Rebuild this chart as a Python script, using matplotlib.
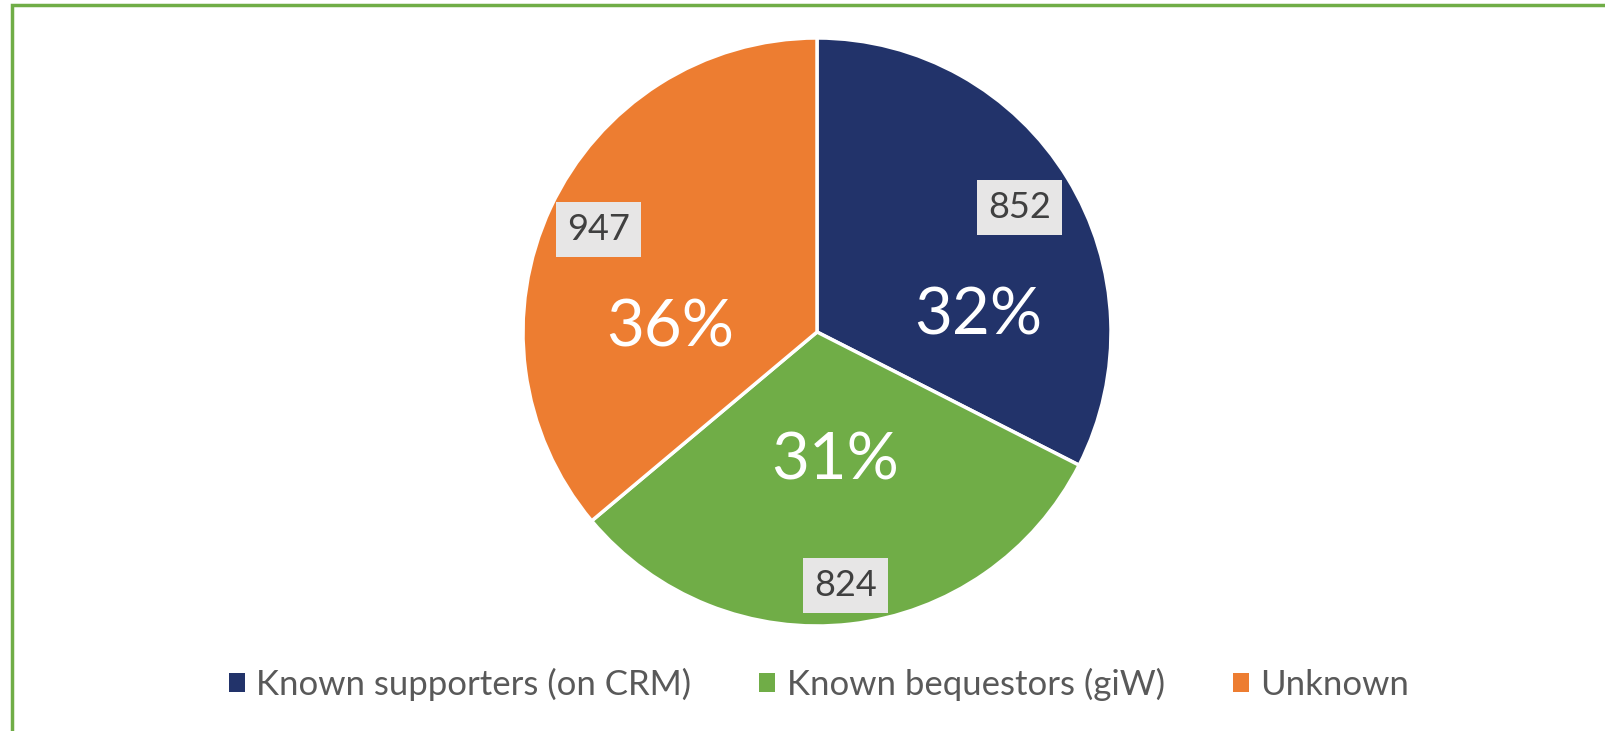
import matplotlib.pyplot as plt
from matplotlib.patches import Rectangle, Patch

# data
categories = ['Known supporters (on CRM)', 'Known bequestors (giW)', 'Unknown']
counts = [852, 824, 947]
colors = ['#22336A', '#70AD47', '#ED7D31']

# label anchors (in pie radius units), Excel "best fit" placement
pct_pos = [(0.549, -0.010), (0.061, -0.503), (-0.500, -0.051)]
val_pos = [(0.689, 0.423), (0.097, -0.862), (-0.743, 0.349)]

plt.rcParams['font.family'] = ['Lato', 'DejaVu Sans']

W, H = 1606, 731
fig = plt.figure(figsize=(W / 100, H / 100), dpi=100)

# pie centre (817, 332) px from top-left, radius 294 px
cx, cy, r = 817, 332, 294
ax = fig.add_axes([(cx - r) / W, (H - cy - r) / H, 2 * r / W, 2 * r / H])
wedges, _ = ax.pie(counts, colors=colors, startangle=90, counterclock=False,
                   radius=1, wedgeprops=dict(edgecolor='white', linewidth=2.5))
ax.set_xlim(-1, 1)
ax.set_ylim(-1, 1)
ax.set_aspect('equal')
ax.axis('off')

total = sum(counts)
for v, (px, py), (vx, vy) in zip(counts, pct_pos, val_pos):
    ax.text(px, py, f'{round(100 * v / total)}%', color='white', fontsize=47,
            ha='center', va='baseline')
    ax.text(vx, vy, str(v), color='#404040', fontsize=26, ha='center', va='center',
            bbox=dict(facecolor='#E7E6E6', edgecolor='none', boxstyle='square,pad=0.3'))

handles = [Patch(facecolor=c, edgecolor='none') for c in colors]
fig.legend(handles, categories, loc='center', bbox_to_anchor=(0.51, 1 - 684 / H),
           ncol=3, frameon=False, fontsize=25, labelcolor='#595959',
           handlelength=0.46, handleheight=0.46, handletextpad=0.34, columnspacing=1.95)

# green frame (right and bottom edges run off the canvas)
fig.patches.append(Rectangle((12 / W, -0.1), 1.2, 1.1 - 5 / H, transform=fig.transFigure,
                             fill=False, edgecolor='#70AD47', linewidth=2.5))

fig.savefig('out.png', dpi=100)
